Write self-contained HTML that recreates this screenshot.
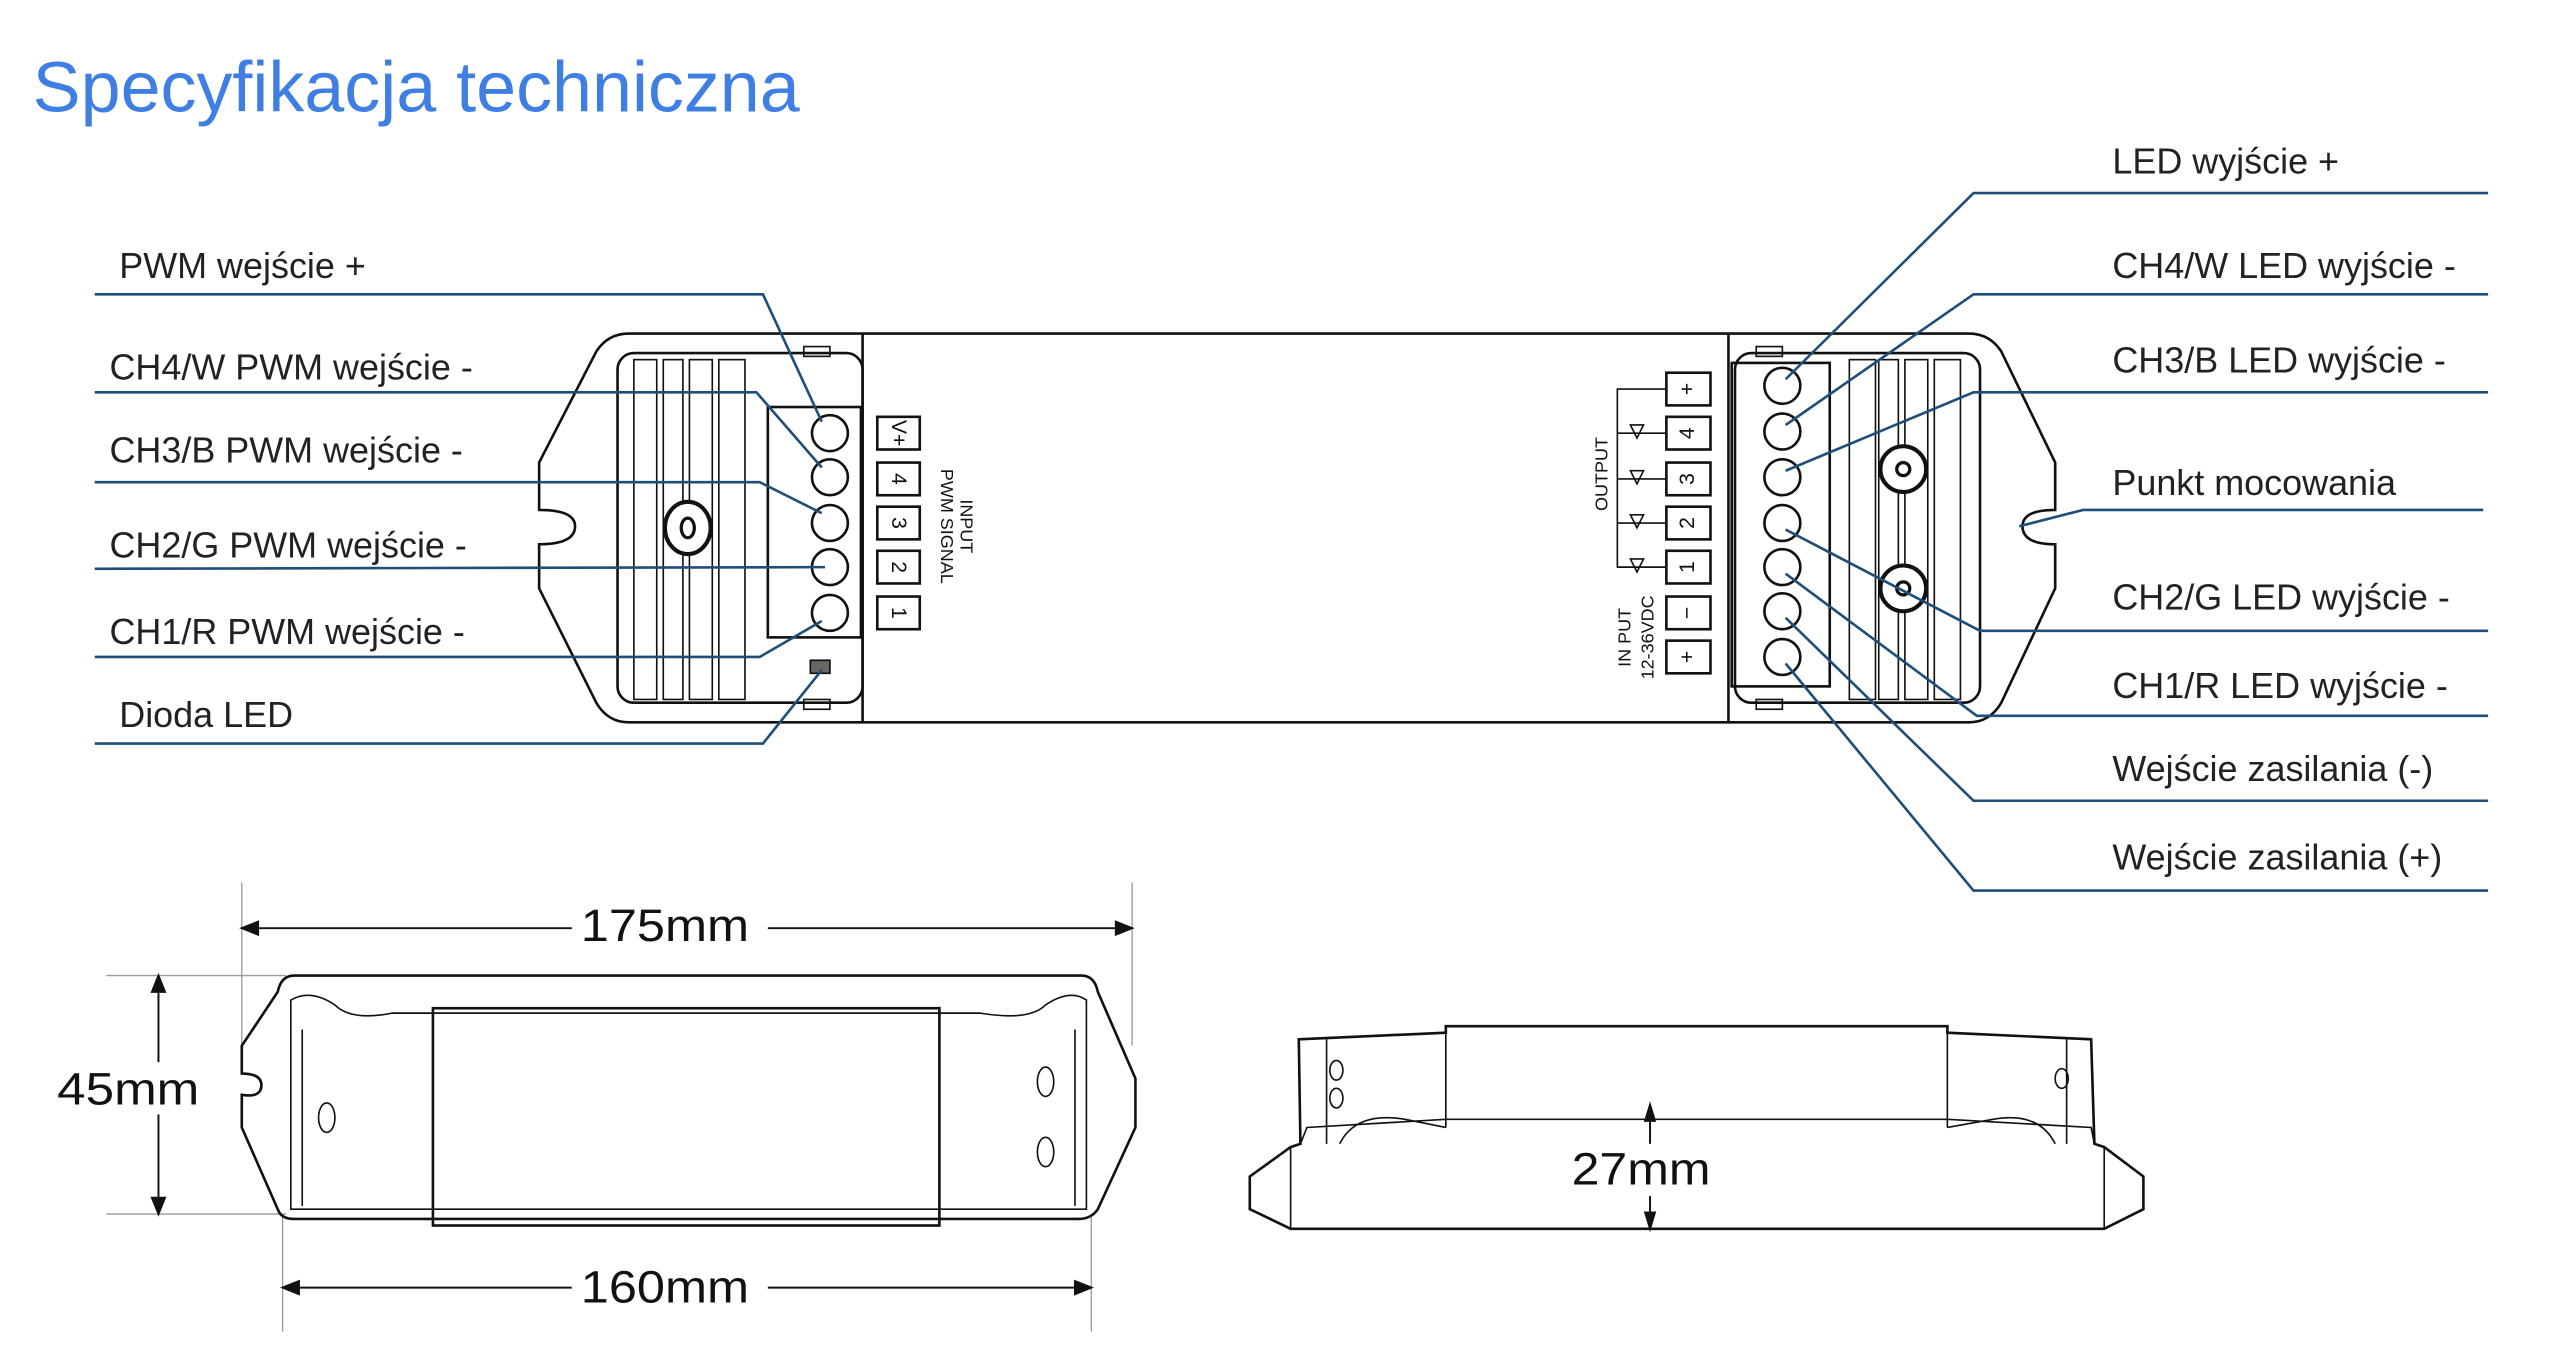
<!DOCTYPE html>
<html><head><meta charset="utf-8"><style>
html,body{margin:0;padding:0;background:#fff;width:2560px;height:1345px;overflow:hidden}
svg{display:block}
text{font-family:"Liberation Sans",sans-serif}
.l{fill:none;stroke:#1f4e79;stroke-width:1.6}
.k{fill:none;stroke:#111;stroke-width:1.6}
.t{fill:none;stroke:#111;stroke-width:1}
.lb{font-size:22px;fill:#222}
.dm{font-size:28px;fill:#111}
</style></head><body>
<svg width="2560" height="1345" viewBox="0 0 1567 823" xmlns="http://www.w3.org/2000/svg">
<text x="20" y="68" font-size="44" fill="#3f7fe3">Specyfikacja techniczna</text>

<path class="k" d="M385,204 L1205,204 Q1218,204 1225,215 L1258,283 L1258,312 Q1238,312 1238,322 Q1238,333 1258,333 L1258,360 L1225,430 Q1218,442 1205,442 L385,442 Q372,442 365,430 L330,360 L330,333 Q352,333 352,322 Q352,312 330,312 L330,283 L365,215 Q372,204 385,204 Z"/>
<rect class="k" x="378" y="216" width="150" height="214" rx="10"/>
<line class="k" x1="528" y1="204" x2="528" y2="442"/>
<line class="k" x1="1058" y1="204" x2="1058" y2="442"/>
<rect class="k" x="1062" y="216" width="150" height="214" rx="10"/>
<g class="t">
<rect x="388" y="220" width="14" height="208"/><rect x="406" y="220" width="12" height="208"/>
<rect x="422" y="220" width="14" height="208"/><rect x="440" y="220" width="16" height="208"/>
<rect x="1132" y="220" width="16" height="208"/><rect x="1150" y="220" width="12" height="208"/>
<rect x="1166" y="220" width="14" height="208"/><rect x="1184" y="220" width="16" height="208"/>
<rect x="492" y="212" width="16" height="6"/><rect x="492" y="428" width="16" height="6"/>
<rect x="1075" y="212" width="16" height="6"/><rect x="1075" y="428" width="16" height="6"/>
</g>
<ellipse cx="421" cy="323" rx="14" ry="16" fill="#fff" stroke="#111" stroke-width="2.5"/>
<ellipse cx="421" cy="323" rx="4" ry="6" fill="none" stroke="#111" stroke-width="2"/>
<circle cx="1165" cy="287" r="14" fill="#fff" stroke="#111" stroke-width="2.5"/>
<circle cx="1165" cy="287" r="4" fill="none" stroke="#111" stroke-width="2"/>
<circle cx="1165" cy="360" r="14" fill="#fff" stroke="#111" stroke-width="2.5"/>
<circle cx="1165" cy="360" r="4" fill="none" stroke="#111" stroke-width="2"/>
<rect class="k" x="470" y="249" width="57" height="141" fill="#fff"/>
<g class="k" fill="#fff">
<circle cx="508" cy="265" r="11"/><circle cx="508" cy="292" r="11"/><circle cx="508" cy="320" r="11"/><circle cx="508" cy="347" r="11"/><circle cx="508" cy="375" r="11"/>
<rect x="537" y="255" width="26" height="20"/><rect x="537" y="283" width="26" height="20"/><rect x="537" y="310" width="26" height="20"/><rect x="537" y="337" width="26" height="20"/><rect x="537" y="365" width="26" height="20"/>
</g>
<rect x="496" y="404" width="12" height="8" fill="#666" stroke="#111"/>
<g font-size="13" fill="#111" text-anchor="middle">
<text transform="translate(550,265) rotate(90)" y="4">V+</text>
<text transform="translate(550,293) rotate(90)" y="4">4</text>
<text transform="translate(550,320) rotate(90)" y="4">3</text>
<text transform="translate(550,347) rotate(90)" y="4">2</text>
<text transform="translate(550,375) rotate(90)" y="4">1</text>
<text transform="translate(588,322) rotate(90)" font-size="11">INPUT</text>
<text transform="translate(576,322) rotate(90)" font-size="11">PWM SIGNAL</text>
</g>
<rect class="k" x="1060" y="222" width="60" height="198" fill="#fff"/>
<g class="k" fill="#fff">
<circle cx="1091" cy="236" r="11"/><circle cx="1091" cy="264" r="11"/><circle cx="1091" cy="292" r="11"/><circle cx="1091" cy="320" r="11"/><circle cx="1091" cy="347" r="11"/><circle cx="1091" cy="374" r="11"/><circle cx="1091" cy="402" r="11"/>
<rect x="1020" y="228" width="27" height="20"/><rect x="1020" y="255" width="27" height="20"/><rect x="1020" y="283" width="27" height="20"/><rect x="1020" y="310" width="27" height="20"/><rect x="1020" y="337" width="27" height="20"/><rect x="1020" y="365" width="27" height="20"/><rect x="1020" y="392" width="27" height="20"/>
</g>
<g font-size="13" fill="#111" text-anchor="middle">
<text transform="translate(1033,238) rotate(-90)" y="4">+</text>
<text transform="translate(1033,265) rotate(-90)" y="4">4</text>
<text transform="translate(1033,293) rotate(-90)" y="4">3</text>
<text transform="translate(1033,320) rotate(-90)" y="4">2</text>
<text transform="translate(1033,347) rotate(-90)" y="4">1</text>
<text transform="translate(1033,375) rotate(-90)" y="4">−</text>
<text transform="translate(1033,402) rotate(-90)" y="4">+</text>
<text transform="translate(984,290) rotate(-90)" font-size="11">OUTPUT</text>
<text transform="translate(998,390) rotate(-90)" font-size="11">IN PUT</text>
<text transform="translate(1012,390) rotate(-90)" font-size="11">12-36VDC</text>
</g>
<path class="t" d="M1020,238 L990,238 L990,347 L1003,347 M990,265 L1020,265 M990,293 L1020,293 M990,320 L1020,320 M990,347 L1020,347"/>
<g class="t" fill="#fff">
<path d="M998,260 L1006,260 L1002,268 Z"/><path d="M998,288 L1006,288 L1002,296 Z"/><path d="M998,315 L1006,315 L1002,323 Z"/><path d="M998,342 L1006,342 L1002,350 Z"/>
</g>

<path class="l" d="M58,180 L467,180 L503,258"/>
<path class="l" d="M58,240 L463,240 L503,286"/>
<path class="l" d="M58,295 L465,295 L503,314"/>
<path class="l" d="M58,348 L505,347"/>
<path class="l" d="M58,402 L465,402 L503,380"/>
<path class="l" d="M58,455 L467,455 L503,410"/>
<text class="lb" x="73" y="170">PWM wejście +</text>
<text class="lb" x="67" y="232">CH4/W PWM wejście  -</text>
<text class="lb" x="67" y="283">CH3/B PWM wejście -</text>
<text class="lb" x="67" y="341">CH2/G PWM wejście  -</text>
<text class="lb" x="67" y="394">CH1/R PWM wejście -</text>
<text class="lb" x="73" y="445">Dioda LED</text>
<path class="l" d="M1523,118 L1208,118 L1093,232"/>
<path class="l" d="M1523,180 L1208,180 L1093,260"/>
<path class="l" d="M1523,240 L1208,240 L1093,288"/>
<path class="l" d="M1520,312 L1275,312 L1236,322"/>
<path class="l" d="M1523,386 L1212,386 L1093,324"/>
<path class="l" d="M1523,438 L1210,438 L1093,351"/>
<path class="l" d="M1523,490 L1208,490 L1093,378"/>
<path class="l" d="M1523,545 L1208,545 L1093,406"/>
<text class="lb" x="1293" y="106">LED wyjście +</text>
<text class="lb" x="1293" y="170">CH4/W LED wyjście -</text>
<text class="lb" x="1293" y="228">CH3/B LED wyjście -</text>
<text class="lb" x="1293" y="303">Punkt mocowania</text>
<text class="lb" x="1293" y="373">CH2/G LED wyjście -</text>
<text class="lb" x="1293" y="427">CH1/R LED wyjście -</text>
<text class="lb" x="1293" y="478">Wejście zasilania (-)</text>
<text class="lb" x="1293" y="532">Wejście zasilania (+)</text>

<g stroke="#999" stroke-width="0.8">
<line x1="148" y1="540" x2="148" y2="640"/><line x1="693" y1="540" x2="693" y2="640"/>
<line x1="65" y1="597" x2="175" y2="597"/><line x1="65" y1="743" x2="175" y2="743"/>
<line x1="173" y1="745" x2="173" y2="815"/><line x1="668" y1="745" x2="668" y2="815"/>
</g>
<g stroke="#111" stroke-width="1.2" fill="#111">
<line x1="152" y1="568" x2="350" y2="568"/><line x1="470" y1="568" x2="689" y2="568"/>
<path d="M148,568 l10,-4 v8z"/><path d="M693,568 l-10,-4 v8z"/>
<line x1="97" y1="601" x2="97" y2="739"/><path d="M97,597 l-4,10 h8z"/><path d="M97,743 l-4,-10 h8z"/>
<line x1="177" y1="788" x2="350" y2="788"/><line x1="470" y1="788" x2="664" y2="788"/>
<path d="M173,788 l10,-4 v8z"/><path d="M668,788 l-10,-4 v8z"/>
</g>
<text class="dm" x="407" y="576" text-anchor="middle" textLength="103" lengthAdjust="spacingAndGlyphs">175mm</text>
<rect x="34" y="650" width="88" height="32" fill="#fff"/>
<text class="dm" x="35" y="676" textLength="87" lengthAdjust="spacingAndGlyphs">45mm</text>
<text class="dm" x="407" y="797" text-anchor="middle" textLength="103" lengthAdjust="spacingAndGlyphs">160mm</text>
<path class="k" d="M180,597 L662,597 Q670,597 672,607 L695,660 L695,690 L672,740 Q668,746 660,746 L180,746 Q172,746 170,740 L148,690 L148,670 Q160,672 160,664 Q160,657 148,657 L148,640 L170,607 Q172,597 180,597 Z"/>
<path class="t" d="M178,612 Q190,605 205,615 Q215,625 240,620 L265,620 L575,620 L600,620 Q630,625 640,615 Q655,605 665,612 L665,740 L178,740 Z"/>
<rect class="k" x="265" y="617" width="310" height="133" fill="#fff"/>
<line class="t" x1="185" y1="630" x2="185" y2="738"/><line class="t" x1="658" y1="630" x2="658" y2="738"/>
<ellipse class="t" cx="200" cy="684" rx="5" ry="9"/><ellipse class="t" cx="640" cy="662" rx="5" ry="9"/><ellipse class="t" cx="640" cy="705" rx="5" ry="9"/>

<path class="k" d="M795,636 L885,632 L885,628 L1192,628 L1192,632 L1280,636 L1282,700 L1288,702 L1312,720 L1312,740 L1288,752 L790,752 L765,740 L765,720 L790,702 L796,700 Z"/>
<path class="t" d="M796,700 L800,690 L885,685 L1192,685 L1280,690 L1282,700 M885,628 L885,690 M1192,628 L1192,690 M820,700 Q830,680 860,685 L885,690 M1258,700 Q1248,680 1220,685 L1192,690 M790,702 L790,752 M1288,702 L1288,752 M812,636 L812,700 M1265,636 L1265,700"/>
<ellipse class="t" cx="818" cy="655" rx="4" ry="6"/><ellipse class="t" cx="818" cy="672" rx="4" ry="6"/><ellipse class="t" cx="1262" cy="660" rx="4" ry="6"/>
<g stroke="#111" stroke-width="1.2" fill="#111">
<line x1="1010" y1="680" x2="1010" y2="748"/><path d="M1010,676 l-3,10 h6z"/><path d="M1010,752 l-3,-10 h6z"/>
</g>
<rect x="960" y="700" width="88" height="32" fill="#fff"/>
<text class="dm" x="962" y="725" textLength="85" lengthAdjust="spacingAndGlyphs">27mm</text>
</svg>
</body></html>
